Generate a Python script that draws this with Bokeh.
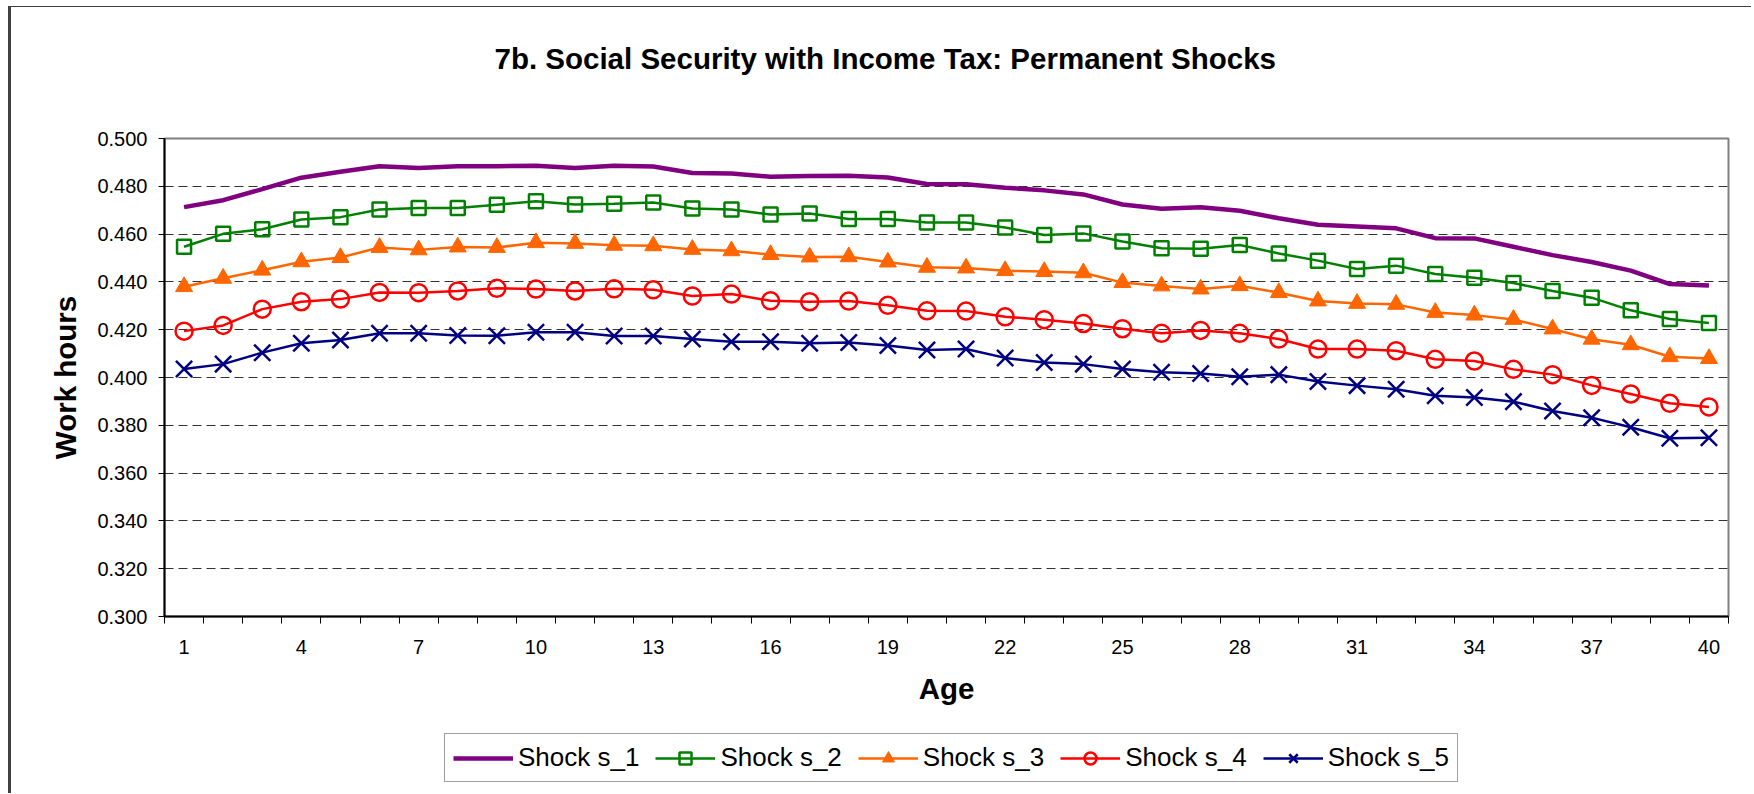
from bokeh.plotting import figure
from bokeh.layouts import column
from bokeh.models import (Range1d, FixedTicker, Legend, LegendItem, ColumnDataSource,
                          CustomJSTickFormatter, Title)
from bokeh.embed import file_html
from bokeh.resources import INLINE

# ---- data ----
ages = list(range(1, 41))
s1 = [0.4713, 0.4742, 0.4788, 0.4836, 0.4861, 0.4884, 0.4877, 0.4884, 0.4884, 0.4886,
      0.4877, 0.4886, 0.4883, 0.4856, 0.4854, 0.4840, 0.4843, 0.4844, 0.4837, 0.4810,
      0.4809, 0.4794, 0.4783, 0.4766, 0.4724, 0.4706, 0.4712, 0.4698, 0.4666, 0.4639,
      0.4632, 0.4624, 0.4583, 0.4582, 0.4547, 0.4512, 0.4483, 0.4447, 0.4391, 0.4385]
s2 = [0.4547, 0.4601, 0.4620, 0.4661, 0.4671, 0.4703, 0.4709, 0.4709, 0.4723, 0.4737,
      0.4724, 0.4727, 0.4732, 0.4707, 0.4703, 0.4682, 0.4686, 0.4663, 0.4663, 0.4649,
      0.4649, 0.4628, 0.4596, 0.4603, 0.4569, 0.4541, 0.4539, 0.4554, 0.4519, 0.4489,
      0.4454, 0.4468, 0.4433, 0.4417, 0.4395, 0.4362, 0.4334, 0.4281, 0.4245, 0.4228]
s3 = [0.4380, 0.4415, 0.4449, 0.4484, 0.4502, 0.4544, 0.4534, 0.4546, 0.4544, 0.4564,
      0.4561, 0.4553, 0.4551, 0.4536, 0.4530, 0.4514, 0.4504, 0.4505, 0.4483, 0.4461,
      0.4458, 0.4447, 0.4443, 0.4438, 0.4397, 0.4383, 0.4370, 0.4384, 0.4355, 0.4320,
      0.4310, 0.4306, 0.4272, 0.4261, 0.4243, 0.4203, 0.4160, 0.4137, 0.4087, 0.4079]
s4 = [0.4194, 0.4218, 0.4286, 0.4317, 0.4328, 0.4356, 0.4355, 0.4362, 0.4373, 0.4370,
      0.4362, 0.4371, 0.4367, 0.4341, 0.4349, 0.4321, 0.4317, 0.4320, 0.4302, 0.4279,
      0.4278, 0.4254, 0.4242, 0.4226, 0.4204, 0.4185, 0.4197, 0.4185, 0.4161, 0.4119,
      0.4119, 0.4112, 0.4076, 0.4069, 0.4034, 0.4012, 0.3967, 0.3931, 0.3892, 0.3877]
s5 = [0.4036, 0.4056, 0.4104, 0.4143, 0.4157, 0.4185, 0.4185, 0.4176, 0.4175, 0.4189,
      0.4189, 0.4174, 0.4174, 0.4161, 0.4150, 0.4150, 0.4143, 0.4146, 0.4134, 0.4115,
      0.4119, 0.4082, 0.4063, 0.4056, 0.4036, 0.4022, 0.4017, 0.4003, 0.4012, 0.3983,
      0.3966, 0.3951, 0.3924, 0.3916, 0.3899, 0.3860, 0.3832, 0.3792, 0.3746, 0.3748]
series_names = ["Shock s_1", "Shock s_2", "Shock s_3", "Shock s_4", "Shock s_5"]
x_tick_labels = [1, 4, 7, 10, 13, 16, 19, 22, 25, 28, 31, 34, 37, 40]
y_ticks = [0.30, 0.32, 0.34, 0.36, 0.38, 0.40, 0.42, 0.44, 0.46, 0.48, 0.50]
title_text = "7b. Social Security with Income Tax: Permanent Shocks"

FONT = "Liberation Sans"
W = 1743

p = figure(width=W, height=718, output_backend="svg", toolbar_location=None,
           x_range=Range1d(0.5, 40.5), y_range=Range1d(0.30, 0.50),
           min_border_left=153, min_border_right=26, min_border_top=131,
           min_border_bottom=109)
p.styles = {"border-left": "3px solid #404040", "border-top": "1px solid #404040"}
p.title.text = ""

# spacer between frame and title, then the title itself
spacer = Title(text=" ", text_font_size="1px", standoff=51)
p.add_layout(spacer, "above")
main_title = Title(text=title_text, align="left", offset=330, standoff=20,
                   text_font=FONT, text_font_size="29.5px", text_font_style="bold",
                   text_color="black")
p.add_layout(main_title, "above")

p.outline_line_color = "#808080"
p.outline_line_width = 2
p.background_fill_color = "white"
p.border_fill_color = "white"

p.xgrid.grid_line_color = None
p.ygrid.grid_line_color = "#333333"
p.ygrid.grid_line_dash = "9 5"
p.ygrid.grid_line_width = 1

# x axis
p.xaxis.ticker = FixedTicker(ticks=x_tick_labels,
                             minor_ticks=[i + 0.5 for i in range(0, 41)])
p.xaxis.major_tick_out = 0
p.xaxis.major_tick_in = 0
p.xaxis.minor_tick_out = 7
p.xaxis.minor_tick_in = 0
p.xaxis.minor_tick_line_color = "black"
p.xaxis.axis_line_color = "black"
p.xaxis.axis_line_width = 2
p.xaxis.major_label_standoff = 16
p.xaxis.major_label_text_font = FONT
p.xaxis.major_label_text_font_size = "20px"
p.xaxis.major_label_text_color = "black"
p.xaxis.axis_label = "Age"
p.xaxis.axis_label_text_font = FONT
p.xaxis.axis_label_text_font_size = "29.5px"
p.xaxis.axis_label_text_font_style = "bold"
p.xaxis.axis_label_text_color = "black"
p.xaxis.axis_label_standoff = 15

# y axis
p.yaxis.ticker = FixedTicker(ticks=y_ticks, minor_ticks=[])
p.yaxis.formatter = CustomJSTickFormatter(code="return tick.toFixed(3);")
p.yaxis.major_tick_out = 6
p.yaxis.major_tick_in = 0
p.yaxis.major_tick_line_color = "black"
p.yaxis.axis_line_color = "black"
p.yaxis.axis_line_width = 2
p.yaxis.major_label_standoff = 11
p.yaxis.major_label_text_font = FONT
p.yaxis.major_label_text_font_size = "20px"
p.yaxis.major_label_text_color = "black"
p.yaxis.axis_label = "Work hours"
p.yaxis.axis_label_text_font = FONT
p.yaxis.axis_label_text_font_size = "29.5px"
p.yaxis.axis_label_text_font_style = "bold"
p.yaxis.axis_label_text_color = "black"
p.yaxis.axis_label_standoff = 12

src = ColumnDataSource(dict(x=ages, s1=s1, s2=s2, s3=s3, s4=s4, s5=s5))

styles = [
    dict(line_color="#800080", line_width=4.5),
    dict(line_color="#008000", line_width=2.5),
    dict(line_color="#FF6600", line_width=2.5),
    dict(line_color="#FF0000", line_width=2.5),
    dict(line_color="#000080", line_width=2.5),
]
markers = [
    None,
    dict(marker="square", size=14, line_color="#008000", line_width=2.5, fill_alpha=0),
    dict(marker="triangle", size=17, line_color="#FF6600", fill_color="#FF6600", line_width=1),
    dict(marker="circle", size=17, line_color="#FF0000", line_width=2.5, fill_alpha=0),
    dict(marker="x", size=23, line_color="#000080", line_width=2.5),
]
cols = ["s1", "s2", "s3", "s4", "s5"]


def draw(fig):
    rs = []
    for c, st, mk in zip(cols, styles, markers):
        group = [fig.line("x", c, source=src, **st)]
        if mk is not None:
            group.append(fig.scatter("x", c, source=src, **mk))
        rs.append(group)
    return rs


draw(p)

# legend strip below the chart (its own small canvas so the box is not clipped)
lp = figure(width=W, height=69, output_backend="svg", toolbar_location=None,
            x_range=Range1d(0.5, 40.5), y_range=Range1d(10, 11),
            min_border_left=0, min_border_right=0, min_border_top=0,
            min_border_bottom=0, x_axis_location=None, y_axis_location=None)
lp.styles = {"border-left": "3px solid #404040"}
lp.outline_line_color = None
lp.xgrid.visible = False
lp.ygrid.visible = False
lp.background_fill_color = "white"
lp.border_fill_color = "white"
legend_rs = draw(lp)

items = [LegendItem(label=n, renderers=g) for n, g in zip(series_names, legend_rs)]
legend = Legend(items=items, orientation="horizontal", location=(280, 11),
                label_text_font=FONT, label_text_font_size="26px",
                label_text_color="black", glyph_width=60, glyph_height=30,
                label_height=30, label_standoff=5, spacing=16, padding=8,
                margin=0, border_line_color="#404040", border_line_width=1.5,
                background_fill_color="white", background_fill_alpha=1)
lp.add_layout(legend, "center")

layout = column(p, lp, spacing=0)
layout.margin = (6, 0, 0, 8)

open("out.html", "w").write(file_html(layout, INLINE))
